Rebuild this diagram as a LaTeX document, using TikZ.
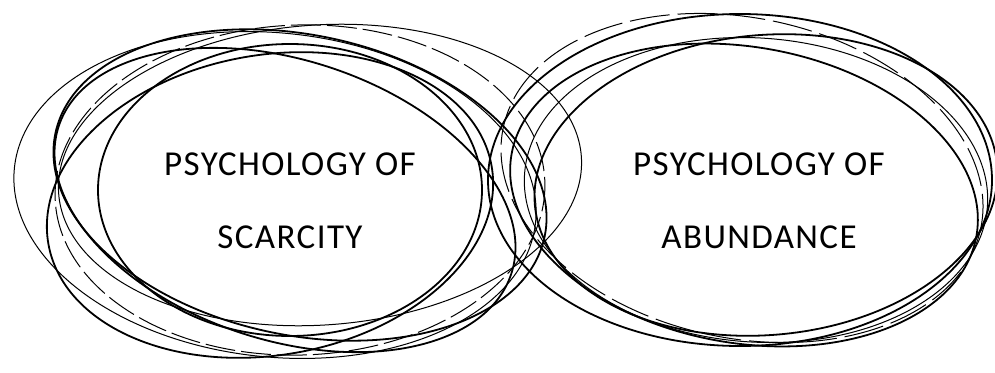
\documentclass[tikz,border=0pt]{standalone}
\usepackage{fontspec}
\setmainfont{Carlito}
\begin{document}
\begin{tikzpicture}[x=1pt,y=-1pt,
  loop/.style={line width=1.8pt,black},
  thinloop/.style={line width=1.0pt,black},
  lbl/.style={font=\fontsize{35}{73}\selectfont\addfontfeatures{LetterSpace=4},align=center,inner sep=0pt,anchor=base}]
\useasboundingbox (0,0) rectangle (995,372);
% left cluster
\draw[loop] (290,190) ellipse[x radius=192,y radius=146];
\draw[thinloop] (275,195) ellipse[x radius=262,y radius=162,rotate=-6];
\draw[loop] (300,185) ellipse[x radius=250,y radius=150,rotate=-12];
\draw[loop] (285,200) ellipse[x radius=238,y radius=140,rotate=-18];
\draw[thinloop] (320,175) ellipse[x radius=262,y radius=150,rotate=4];
\draw[loop] (270,205) ellipse[x radius=225,y radius=150,rotate=10];
\draw[thinloop,dashed,dash pattern=on 30pt off 6pt] (300,190) ellipse[x radius=245,y radius=165,rotate=2];
% right cluster
\draw[loop] (740,180) ellipse[x radius=252,y radius=166];
\draw[loop] (744,195) ellipse[x radius=236,y radius=148,rotate=-10];
\draw[thinloop] (756,190) ellipse[x radius=232,y radius=152,rotate=-4];
\draw[loop] (766,185) ellipse[x radius=232,y radius=150,rotate=5];
\draw[thinloop,dashed,dash pattern=on 40pt off 8pt] (742,178) ellipse[x radius=244,y radius=160,rotate=-12];
% labels
\node[lbl] (s) at (290,248) {PSYCHOLOGY OF\\SCARCITY};
\node[lbl] (a) at (759,248) {PSYCHOLOGY OF\\ABUNDANCE};
\end{tikzpicture}
\end{document}
